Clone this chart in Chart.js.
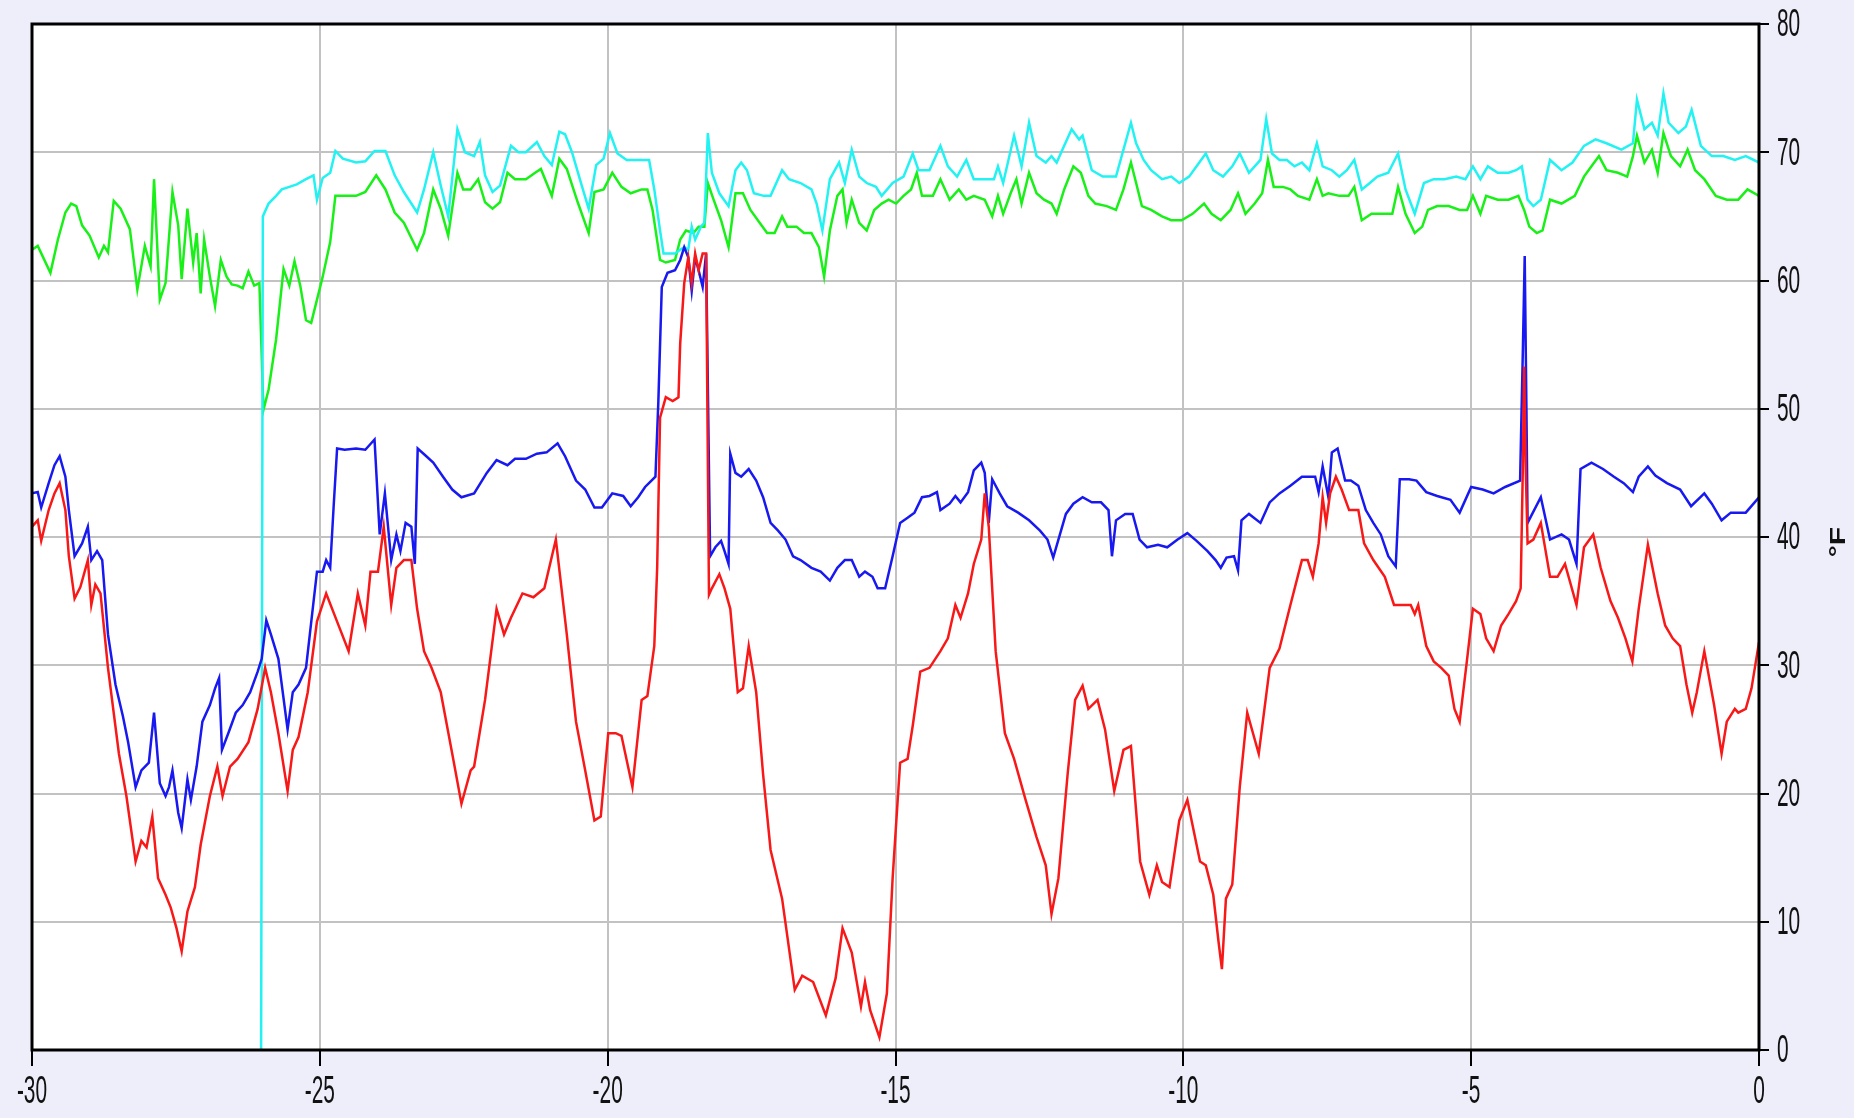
<!DOCTYPE html>
<html>
<head>
<meta charset="utf-8">
<script src="https://cdn.jsdelivr.net/npm/chart.js@4.4.1/dist/chart.umd.min.js"></script>
<style>
  html, body { margin: 0; padding: 0; background: #EEEEFA; }
  canvas { display: block; }
</style>
</head>
<body>
<canvas id="c" width="1854" height="1118"></canvas>
<script>
// ---- data (day offset, °F) ----
const xTickValues = [-30, -25, -20, -15, -10, -5, 0];
const xTickLabels = ["-30", "-25", "-20", "-15", "-10", "-5", "0"];
const yTickValues = [0, 10, 20, 30, 40, 50, 60, 70, 80];
const yTickLabels = ["0", "10", "20", "30", "40", "50", "60", "70", "80"];
const yTitle = "°F";

const cyanPoints = [
[-26.02,0],[-25.99,65.0],[-25.89,66.0],[-25.76,66.6],[-25.66,67.1],[-25.53,67.3],[-25.4,67.5],[-25.24,67.9],[-25.11,68.2],[-25.05,66.3],[-24.95,68.0],[-24.82,68.4],[-24.73,70.1],[-24.6,69.5],[-24.37,69.2],[-24.21,69.3],[-24.05,70.1],[-23.86,70.1],[-23.7,68.2],[-23.54,66.9],[-23.31,65.3],[-23.19,67.1],[-23.03,70.0],[-22.9,67.4],[-22.77,65.0],[-22.61,71.8],[-22.48,70.0],[-22.32,69.7],[-22.22,70.8],[-22.13,68.2],[-22.0,66.9],[-21.87,67.4],[-21.68,70.5],[-21.55,70.0],[-21.42,70.0],[-21.23,70.8],[-21.1,69.7],[-20.97,69.0],[-20.84,71.6],[-20.74,71.4],[-20.62,70.0],[-20.45,67.4],[-20.33,65.6],[-20.2,69.0],[-20.07,69.5],[-19.96,71.5],[-19.83,69.9],[-19.67,69.4],[-19.51,69.4],[-19.28,69.4],[-19.19,67.1],[-19.09,63.9],[-19.03,62.1],[-18.83,62.1],[-18.74,62.4],[-18.67,62.6],[-18.6,62.4],[-18.54,64.2],[-18.48,63.2],[-18.38,64.2],[-18.32,64.5],[-18.26,71.5],[-18.19,68.4],[-18.06,66.8],[-17.9,65.8],[-17.78,68.6],[-17.68,69.2],[-17.58,68.6],[-17.46,66.8],[-17.29,66.6],[-17.17,66.6],[-16.97,68.6],[-16.85,67.9],[-16.65,67.6],[-16.46,67.1],[-16.37,66.0],[-16.27,63.9],[-16.14,67.9],[-15.98,69.2],[-15.88,67.6],[-15.76,70.2],[-15.63,68.1],[-15.5,67.6],[-15.34,67.3],[-15.24,66.6],[-15.05,67.6],[-14.86,68.1],[-14.7,69.9],[-14.6,68.6],[-14.41,68.6],[-14.22,70.5],[-14.09,68.9],[-13.93,68.1],[-13.77,69.4],[-13.64,67.9],[-13.45,67.9],[-13.29,67.9],[-13.22,68.9],[-13.13,67.6],[-12.94,71.3],[-12.81,68.9],[-12.68,72.3],[-12.55,69.7],[-12.39,69.2],[-12.29,69.7],[-12.2,69.2],[-12.07,70.5],[-11.94,71.8],[-11.81,71.0],[-11.75,71.3],[-11.59,68.6],[-11.4,68.1],[-11.17,68.1],[-11.04,70.2],[-10.91,72.3],[-10.82,70.7],[-10.69,69.4],[-10.56,68.6],[-10.37,67.9],[-10.21,68.1],[-10.07,67.6],[-9.9,68.1],[-9.77,68.9],[-9.61,69.9],[-9.48,68.6],[-9.31,68.1],[-9.15,68.9],[-9.02,69.9],[-8.86,68.4],[-8.66,69.4],[-8.56,72.6],[-8.46,69.9],[-8.33,69.4],[-8.2,69.4],[-8.07,68.9],[-7.94,69.2],[-7.81,68.6],[-7.68,70.7],[-7.58,68.9],[-7.42,68.6],[-7.29,68.1],[-7.16,68.6],[-7.03,69.4],[-6.9,67.1],[-6.76,67.6],[-6.63,68.1],[-6.44,68.4],[-6.27,69.9],[-6.14,67.1],[-5.98,65.2],[-5.82,67.6],[-5.65,67.9],[-5.46,67.9],[-5.26,68.1],[-5.1,67.9],[-4.97,68.9],[-4.84,67.9],[-4.71,68.9],[-4.54,68.4],[-4.35,68.4],[-4.22,68.6],[-4.12,68.9],[-4.02,66.3],[-3.92,65.8],[-3.79,66.3],[-3.63,69.4],[-3.43,68.6],[-3.24,69.2],[-3.04,70.5],[-2.84,71.0],[-2.65,70.7],[-2.39,70.2],[-2.19,70.7],[-2.12,74.1],[-1.99,71.8],[-1.86,72.3],[-1.76,71.3],[-1.66,74.6],[-1.57,72.3],[-1.4,71.5],[-1.27,72.0],[-1.17,73.3],[-1.01,70.5],[-0.82,69.7],[-0.62,69.7],[-0.42,69.4],[-0.23,69.7],[0,69.2]
];

const greenPoints = [
[-30.0,62.4],[-29.9,62.7],[-29.68,60.6],[-29.55,63.2],[-29.42,65.3],[-29.32,66.0],[-29.23,65.8],[-29.13,64.3],[-29.0,63.5],[-28.84,61.8],[-28.75,62.7],[-28.68,62.2],[-28.58,66.2],[-28.46,65.6],[-28.3,64.0],[-28.17,59.3],[-28.04,62.7],[-27.94,61.1],[-27.88,67.9],[-27.78,58.5],[-27.68,59.8],[-27.56,66.9],[-27.46,64.3],[-27.4,60.1],[-27.3,65.6],[-27.2,61.4],[-27.14,63.7],[-27.07,59.0],[-27.01,63.2],[-26.91,60.3],[-26.82,58.0],[-26.72,61.6],[-26.62,60.3],[-26.53,59.7],[-26.43,59.6],[-26.34,59.4],[-26.24,60.7],[-26.14,59.6],[-26.05,59.8],[-25.98,49.9],[-25.89,51.5],[-25.76,55.4],[-25.63,60.9],[-25.53,59.6],[-25.44,61.5],[-25.34,59.6],[-25.24,56.9],[-25.15,56.7],[-24.95,60.3],[-24.82,63.0],[-24.73,66.6],[-24.57,66.6],[-24.37,66.6],[-24.21,66.9],[-24.02,68.2],[-23.86,67.1],[-23.7,65.3],[-23.54,64.5],[-23.31,62.4],[-23.19,63.7],[-23.03,67.1],[-22.9,65.6],[-22.77,63.5],[-22.61,68.4],[-22.51,67.1],[-22.38,67.1],[-22.25,67.9],[-22.13,66.1],[-22.0,65.6],[-21.87,66.1],[-21.74,68.4],[-21.61,67.9],[-21.42,67.9],[-21.26,68.4],[-21.16,68.7],[-20.97,66.6],[-20.84,69.5],[-20.71,68.7],[-20.52,66.1],[-20.33,63.7],[-20.23,66.9],[-20.07,67.1],[-19.92,68.4],[-19.76,67.3],[-19.6,66.8],[-19.41,67.1],[-19.31,67.1],[-19.22,65.5],[-19.09,61.6],[-18.99,61.4],[-18.83,61.6],[-18.74,63.2],[-18.64,63.9],[-18.51,63.7],[-18.42,64.2],[-18.32,64.2],[-18.26,67.6],[-18.16,66.3],[-18.03,64.7],[-17.9,62.6],[-17.78,66.8],[-17.65,66.8],[-17.52,65.5],[-17.36,64.5],[-17.23,63.7],[-17.1,63.7],[-16.97,65.0],[-16.88,64.2],[-16.72,64.2],[-16.59,63.7],[-16.46,63.7],[-16.33,62.6],[-16.24,60.3],[-16.14,63.9],[-16.01,66.6],[-15.92,67.1],[-15.85,64.5],[-15.76,66.3],[-15.63,64.5],[-15.5,63.9],[-15.37,65.5],[-15.24,66.0],[-15.12,66.3],[-14.99,66.0],[-14.86,66.6],[-14.73,67.1],[-14.63,68.4],[-14.54,66.6],[-14.35,66.6],[-14.22,67.9],[-14.06,66.3],[-13.9,67.1],[-13.77,66.3],[-13.64,66.6],[-13.45,66.3],[-13.32,65.0],[-13.22,66.6],[-13.13,65.2],[-13.0,66.8],[-12.9,67.9],[-12.81,66.0],[-12.68,68.4],[-12.55,66.8],[-12.42,66.3],[-12.29,66.0],[-12.2,65.2],[-12.07,67.1],[-11.91,68.9],[-11.78,68.4],[-11.65,66.6],[-11.53,66.0],[-11.33,65.8],[-11.17,65.5],[-11.04,67.1],[-10.91,69.2],[-10.82,67.6],[-10.72,65.8],[-10.56,65.5],[-10.37,65.0],[-10.21,64.7],[-10.03,64.7],[-9.84,65.2],[-9.64,66.0],[-9.51,65.2],[-9.35,64.7],[-9.18,65.5],[-9.05,66.8],[-8.92,65.2],[-8.76,66.0],[-8.63,66.8],[-8.53,69.4],[-8.43,67.3],[-8.27,67.3],[-8.14,67.1],[-8.01,66.6],[-7.81,66.3],[-7.68,67.9],[-7.58,66.6],[-7.48,66.8],[-7.29,66.6],[-7.13,66.6],[-7.03,67.3],[-6.9,64.7],[-6.73,65.2],[-6.57,65.2],[-6.37,65.2],[-6.27,67.3],[-6.14,65.2],[-5.98,63.7],[-5.85,64.2],[-5.75,65.5],[-5.59,65.8],[-5.39,65.8],[-5.2,65.5],[-5.07,65.5],[-4.97,66.6],[-4.84,65.2],[-4.74,66.6],[-4.54,66.3],[-4.35,66.3],[-4.18,66.6],[-4.08,65.5],[-3.99,64.2],[-3.86,63.7],[-3.76,63.9],[-3.63,66.3],[-3.43,66.0],[-3.2,66.6],[-3.04,68.1],[-2.91,68.9],[-2.78,69.7],[-2.65,68.6],[-2.45,68.4],[-2.29,68.1],[-2.19,69.7],[-2.12,71.3],[-1.99,69.2],[-1.86,70.2],[-1.76,68.4],[-1.66,71.5],[-1.53,69.7],[-1.37,68.9],[-1.24,70.2],[-1.11,68.6],[-0.95,67.9],[-0.75,66.6],[-0.56,66.3],[-0.36,66.3],[-0.2,67.1],[0,66.6]
];

const bluePoints = [
[-30.0,43.4],[-29.9,43.5],[-29.84,42.3],[-29.71,44.2],[-29.61,45.6],[-29.52,46.3],[-29.42,44.7],[-29.36,42.1],[-29.26,38.5],[-29.13,39.5],[-29.03,40.8],[-28.97,38.2],[-28.87,38.9],[-28.78,38.2],[-28.68,32.4],[-28.55,28.5],[-28.42,26.0],[-28.33,24.0],[-28.2,20.5],[-28.1,21.8],[-27.97,22.4],[-27.88,26.3],[-27.78,20.8],[-27.68,19.8],[-27.62,20.5],[-27.56,21.8],[-27.46,18.5],[-27.4,17.3],[-27.3,21.1],[-27.24,19.5],[-27.14,22.1],[-27.04,25.6],[-26.91,26.9],[-26.82,28.2],[-26.75,29.0],[-26.7,23.4],[-26.59,24.7],[-26.46,26.3],[-26.34,26.9],[-26.21,27.9],[-26.08,29.5],[-26.01,30.5],[-25.93,33.5],[-25.85,32.4],[-25.72,30.5],[-25.56,25.0],[-25.47,27.9],[-25.37,28.5],[-25.24,29.8],[-25.05,37.3],[-24.95,37.3],[-24.89,38.2],[-24.82,37.6],[-24.76,42.4],[-24.7,46.9],[-24.57,46.8],[-24.37,46.9],[-24.21,46.8],[-24.05,47.6],[-23.96,40.2],[-23.87,43.4],[-23.76,38.2],[-23.67,40.2],[-23.6,38.9],[-23.51,41.1],[-23.41,40.8],[-23.35,37.9],[-23.3,46.9],[-23.15,46.3],[-23.03,45.8],[-22.86,44.7],[-22.7,43.7],[-22.54,43.1],[-22.32,43.4],[-22.1,45.0],[-21.93,46.0],[-21.74,45.6],[-21.61,46.1],[-21.42,46.1],[-21.23,46.5],[-21.06,46.6],[-20.87,47.3],[-20.74,46.3],[-20.55,44.4],[-20.39,43.7],[-20.23,42.3],[-20.1,42.3],[-19.92,43.4],[-19.73,43.2],[-19.6,42.4],[-19.47,43.1],[-19.35,43.9],[-19.17,44.7],[-19.12,50.5],[-19.06,59.5],[-18.96,60.6],[-18.83,60.8],[-18.74,61.6],[-18.67,62.6],[-18.6,61.8],[-18.54,59.2],[-18.48,61.8],[-18.42,60.8],[-18.35,59.5],[-18.29,62.1],[-18.22,38.5],[-18.13,39.2],[-18.03,39.7],[-17.97,38.9],[-17.9,37.9],[-17.87,46.5],[-17.78,45.0],[-17.68,44.7],[-17.55,45.3],[-17.42,44.4],[-17.3,43.1],[-17.17,41.1],[-17.04,40.5],[-16.91,39.8],[-16.78,38.5],[-16.65,38.2],[-16.46,37.6],[-16.3,37.3],[-16.14,36.6],[-16.01,37.6],[-15.88,38.2],[-15.76,38.2],[-15.63,36.9],[-15.53,37.3],[-15.4,36.9],[-15.31,36.0],[-15.18,36.0],[-15.05,38.5],[-14.92,41.1],[-14.79,41.5],[-14.67,41.9],[-14.54,43.1],[-14.41,43.2],[-14.28,43.5],[-14.22,42.1],[-14.06,42.6],[-13.96,43.2],[-13.87,42.7],[-13.74,43.5],[-13.64,45.2],[-13.51,45.8],[-13.45,45.0],[-13.38,41.1],[-13.32,44.5],[-13.19,43.4],[-13.06,42.4],[-12.87,41.9],[-12.68,41.3],[-12.49,40.5],[-12.36,39.8],[-12.26,38.4],[-12.17,39.8],[-12.04,41.8],[-11.91,42.6],[-11.75,43.1],[-11.59,42.7],[-11.43,42.7],[-11.3,42.1],[-11.24,38.5],[-11.17,41.3],[-11.01,41.8],[-10.88,41.8],[-10.76,39.8],[-10.63,39.2],[-10.44,39.4],[-10.28,39.2],[-10.1,39.8],[-9.93,40.3],[-9.77,39.7],[-9.58,38.9],[-9.44,38.2],[-9.35,37.6],[-9.25,38.4],[-9.12,38.5],[-9.05,37.4],[-8.99,41.3],[-8.86,41.8],[-8.66,41.1],[-8.5,42.7],[-8.33,43.4],[-8.14,44.0],[-7.94,44.7],[-7.71,44.7],[-7.65,43.5],[-7.58,45.5],[-7.48,43.1],[-7.42,46.6],[-7.32,46.9],[-7.19,44.4],[-7.09,44.4],[-6.96,44.0],[-6.83,42.1],[-6.7,41.1],[-6.57,40.2],[-6.44,38.5],[-6.31,37.7],[-6.24,44.5],[-6.08,44.5],[-5.95,44.4],[-5.78,43.5],[-5.59,43.2],[-5.36,42.9],[-5.2,41.9],[-5.0,43.9],[-4.8,43.7],[-4.61,43.4],[-4.41,43.9],[-4.15,44.4],[-4.1,55.0],[-4.07,61.9],[-4.04,50.0],[-4.02,41.1],[-3.79,43.1],[-3.63,39.8],[-3.43,40.2],[-3.3,39.8],[-3.17,37.9],[-3.1,45.3],[-2.91,45.8],[-2.71,45.3],[-2.52,44.7],[-2.35,44.2],[-2.19,43.5],[-2.09,44.7],[-1.93,45.5],[-1.8,44.8],[-1.6,44.2],[-1.37,43.7],[-1.18,42.4],[-0.95,43.4],[-0.82,42.6],[-0.65,41.3],[-0.49,41.9],[-0.23,41.9],[0,43.1]
];

const redPoints = [
[-30.0,40.8],[-29.9,41.3],[-29.84,39.7],[-29.71,42.1],[-29.61,43.4],[-29.52,44.2],[-29.42,42.1],[-29.36,38.5],[-29.26,35.2],[-29.16,36.1],[-29.03,38.2],[-28.97,34.7],[-28.9,36.3],[-28.81,35.6],[-28.68,29.8],[-28.49,23.1],[-28.36,19.8],[-28.2,14.7],[-28.1,16.3],[-28.01,15.8],[-27.91,18.2],[-27.81,13.4],[-27.68,12.1],[-27.59,11.1],[-27.49,9.5],[-27.4,7.7],[-27.3,10.8],[-27.17,12.7],[-27.07,16.0],[-26.91,19.8],[-26.78,22.1],[-26.69,19.8],[-26.56,22.1],[-26.43,22.7],[-26.24,24.0],[-26.08,26.6],[-25.95,29.8],[-25.85,27.9],[-25.72,24.7],[-25.56,20.2],[-25.47,23.4],[-25.37,24.4],[-25.21,27.9],[-25.05,33.4],[-24.89,35.6],[-24.7,33.4],[-24.5,31.1],[-24.34,35.6],[-24.21,33.1],[-24.12,37.3],[-23.99,37.3],[-23.89,40.8],[-23.76,34.7],[-23.67,37.6],[-23.54,38.2],[-23.41,38.2],[-23.31,34.4],[-23.19,31.1],[-23.06,29.8],[-22.9,27.9],[-22.7,23.1],[-22.54,19.2],[-22.38,21.8],[-22.32,22.1],[-22.13,27.3],[-21.93,34.4],[-21.8,32.4],[-21.68,33.7],[-21.48,35.6],[-21.29,35.3],[-21.1,36.0],[-20.9,39.8],[-20.71,32.4],[-20.55,25.6],[-20.39,21.8],[-20.23,17.9],[-20.12,18.2],[-19.99,24.7],[-19.86,24.7],[-19.76,24.5],[-19.57,20.5],[-19.41,27.3],[-19.31,27.6],[-19.19,31.5],[-19.14,37.6],[-19.09,49.3],[-18.99,50.9],[-18.87,50.6],[-18.77,50.9],[-18.74,55.1],[-18.67,59.8],[-18.6,61.8],[-18.54,59.8],[-18.48,62.1],[-18.42,60.8],[-18.35,62.1],[-18.29,62.1],[-18.24,35.5],[-18.19,36.0],[-18.06,37.1],[-17.97,36.0],[-17.87,34.4],[-17.74,27.9],[-17.65,28.2],[-17.55,31.5],[-17.42,27.9],[-17.3,21.5],[-17.17,15.6],[-16.97,11.8],[-16.75,4.7],[-16.62,5.8],[-16.43,5.3],[-16.21,2.7],[-16.04,5.6],[-15.92,9.5],[-15.76,7.6],[-15.6,3.4],[-15.53,5.3],[-15.44,3.1],[-15.28,1.0],[-15.15,4.4],[-15.05,13.4],[-14.92,22.4],[-14.79,22.7],[-14.7,25.3],[-14.57,29.5],[-14.41,29.8],[-14.22,31.1],[-14.09,32.1],[-13.96,34.7],[-13.87,33.7],[-13.74,35.6],[-13.64,37.9],[-13.51,39.8],[-13.45,43.4],[-13.38,40.8],[-13.26,31.1],[-13.1,24.7],[-12.94,22.7],[-12.74,19.5],[-12.55,16.6],[-12.39,14.4],[-12.29,10.6],[-12.17,13.4],[-12.01,21.5],[-11.88,27.3],[-11.75,28.4],[-11.65,26.6],[-11.49,27.3],[-11.36,25.0],[-11.2,20.2],[-11.04,23.4],[-10.91,23.7],[-10.75,14.7],[-10.59,12.1],[-10.46,14.4],[-10.37,13.1],[-10.24,12.7],[-10.07,17.9],[-9.93,19.5],[-9.71,14.7],[-9.61,14.4],[-9.48,12.1],[-9.39,8.5],[-9.33,6.3],[-9.26,11.8],[-9.15,12.9],[-9.02,20.5],[-8.89,26.3],[-8.69,23.1],[-8.5,29.8],[-8.33,31.3],[-8.14,34.7],[-7.94,38.2],[-7.84,38.2],[-7.75,36.9],[-7.65,39.5],[-7.58,43.1],[-7.52,41.1],[-7.45,43.4],[-7.35,44.7],[-7.25,43.7],[-7.12,42.1],[-6.96,42.1],[-6.86,39.5],[-6.7,38.2],[-6.5,36.9],[-6.34,34.7],[-6.18,34.7],[-6.05,34.7],[-5.98,34.0],[-5.92,34.7],[-5.78,31.5],[-5.65,30.3],[-5.52,29.8],[-5.39,29.2],[-5.29,26.6],[-5.2,25.6],[-5.07,30.5],[-4.97,34.4],[-4.84,34.0],[-4.74,32.1],[-4.61,31.1],[-4.48,33.1],[-4.35,34.0],[-4.22,35.0],[-4.14,36.0],[-4.1,46.0],[-4.08,53.3],[-4.05,45.0],[-4.02,39.5],[-3.92,39.8],[-3.79,41.1],[-3.63,36.9],[-3.5,36.9],[-3.37,37.9],[-3.17,34.7],[-3.04,39.2],[-2.88,40.2],[-2.75,37.6],[-2.58,35.0],[-2.45,33.7],[-2.32,32.1],[-2.2,30.3],[-2.09,34.4],[-1.93,39.4],[-1.76,35.6],[-1.63,33.1],[-1.5,32.1],[-1.37,31.5],[-1.26,28.5],[-1.16,26.3],[-1.08,27.9],[-0.95,31.1],[-0.78,26.9],[-0.65,23.1],[-0.56,25.6],[-0.42,26.6],[-0.36,26.3],[-0.23,26.6],[-0.13,28.2],[0,31.8]
];

// ---- plugins ----
const bgPlugin = {
  id: 'bg',
  beforeDraw(chart) {
    const { ctx, chartArea: a } = chart;
    ctx.save();
    ctx.fillStyle = '#EEEEFA';
    ctx.fillRect(0, 0, chart.width, chart.height);
    ctx.fillStyle = '#FFFFFF';
    ctx.fillRect(a.left, a.top, a.right - a.left, a.bottom - a.top);
    ctx.restore();
  }
};

const framePlugin = {
  id: 'frame',
  afterDraw(chart) {
    const { ctx, chartArea: a, scales } = chart;
    ctx.save();
    ctx.strokeStyle = '#000';
    ctx.lineWidth = 3;
    ctx.strokeRect(a.left, a.top, a.right - a.left, a.bottom - a.top);

    const font = '38px "Liberation Sans", Arial, sans-serif';
    ctx.fillStyle = '#111';
    ctx.font = font;
    ctx.textBaseline = 'middle';
    xTickValues.forEach((v, i) => {
      const px = scales.x.getPixelForValue(v);
      ctx.save();
      ctx.translate(px, a.bottom + 43);
      ctx.scale(0.55, 1);
      ctx.textAlign = 'center';
      ctx.fillText(xTickLabels[i], 0, 0);
      ctx.restore();
    });
    yTickValues.forEach((v, i) => {
      const py = scales.y.getPixelForValue(v);
      ctx.save();
      ctx.translate(a.right + 18, py + 2);
      ctx.scale(0.55, 1);
      ctx.textAlign = 'left';
      ctx.fillText(yTickLabels[i], 0, 0);
      ctx.restore();
    });
    ctx.save();
    ctx.translate(a.right + 80, (a.top + a.bottom) / 2 + 5);
    ctx.rotate(-Math.PI / 2);
    ctx.scale(1, 0.75);
    ctx.font = 'bold 30px "Liberation Sans", Arial, sans-serif';
    ctx.textAlign = 'center';
    ctx.textBaseline = 'middle';
    ctx.fillText(yTitle, 0, 0);
    ctx.restore();
    ctx.restore();
  }
};

const lineDs = (label, data, color) => ({
  label, data,
  borderColor: color,
  borderWidth: 2.5,
  pointRadius: 0,
  tension: 0,
  fill: false
});

new Chart(document.getElementById('c'), {
  type: 'line',
  data: {
    datasets: [
      lineDs('red', redPoints, '#F81818'),
      lineDs('blue', bluePoints, '#1818F0'),
      lineDs('cyan', cyanPoints, '#22F2F2'),
      lineDs('green', greenPoints, '#18F018')
    ]
  },
  options: {
    responsive: false,
    animation: false,
    events: [],
    layout: { padding: { left: 32, top: 24, right: 0, bottom: 0 } },
    plugins: { legend: { display: false }, tooltip: { enabled: false } },
    scales: {
      x: {
        type: 'linear',
        position: 'bottom',
        min: -30, max: 0,
        afterBuildTicks: s => { s.ticks = xTickValues.map(v => ({ value: v })); },
        afterFit: s => { s.height = 68; },
        ticks: { display: false },
        border: { display: false },
        grid: { color: '#C2C2C2', lineWidth: 2, tickColor: '#000', tickWidth: 2, tickLength: 16, drawTicks: true }
      },
      y: {
        type: 'linear',
        position: 'right',
        min: 0, max: 80,
        afterBuildTicks: s => { s.ticks = yTickValues.map(v => ({ value: v })); },
        afterFit: s => { s.width = 95; },
        ticks: { display: false },
        border: { display: false },
        grid: { color: '#C2C2C2', lineWidth: 2, tickColor: '#000', tickWidth: 2, tickLength: 10, drawTicks: true }
      }
    }
  },
  plugins: [bgPlugin, framePlugin]
});
</script>
</body>
</html>
